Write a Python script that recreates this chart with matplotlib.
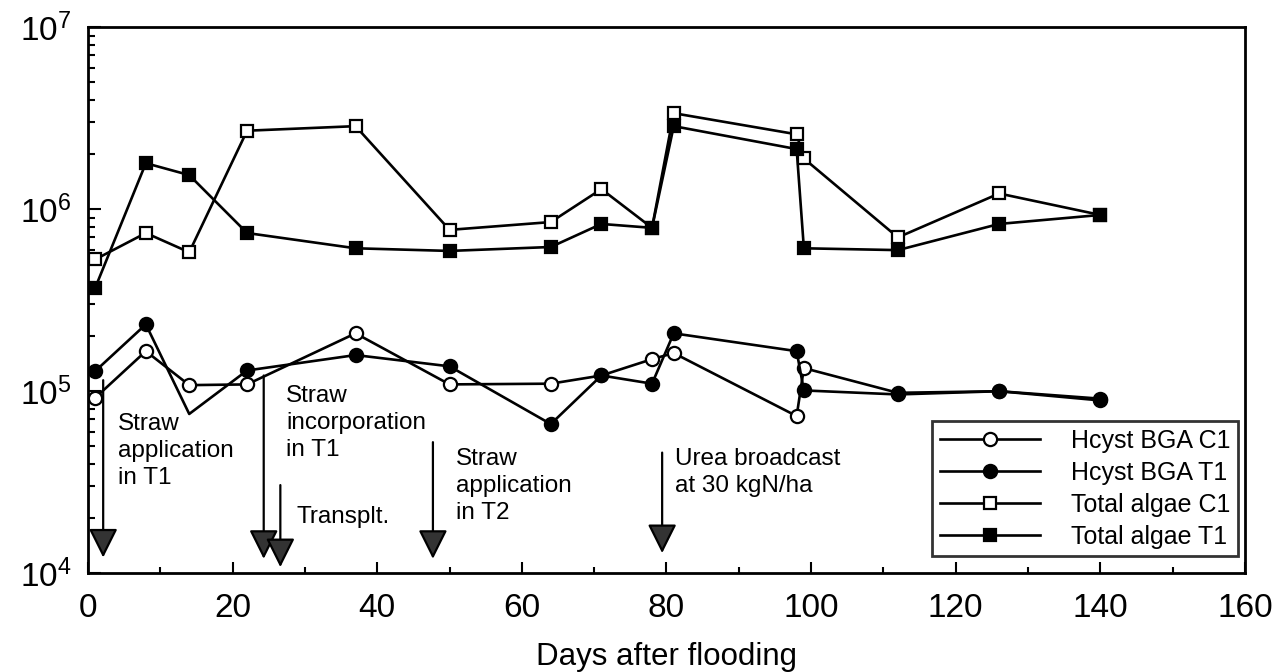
import numpy as np
import matplotlib
matplotlib.use("Agg")
import matplotlib.pyplot as plt
from matplotlib.ticker import MultipleLocator, LogLocator, NullFormatter

plt.rcParams['font.family'] = ['Liberation Sans', 'DejaVu Sans']
plt.rcParams['mathtext.fontset'] = 'custom'
plt.rcParams['mathtext.rm'] = 'Liberation Sans'

# Hcyst BGA (heterocystous blue-green algae)
days_h = [1, 8, 14, 22, 37, 50, 64, 71, 78, 81, 98, 99, 112, 126, 140]
hcyst_c1 = [9.2e4, 1.66e5, 1.08e5, 1.09e5, 2.08e5, 1.09e5, 1.1e5, 1.22e5, 1.5e5,
            1.62e5, 7.3e4, 1.34e5, 9.8e4, 1.0e5, 8.9e4]
days_ht1 = [1, 8, 14, 22, 37, 50, 64, 71, 78, 81, 98, 99, 112, 126, 140]
hcyst_t1 = [1.29e5, 2.33e5, 7.5e4, 1.3e5, 1.58e5, 1.37e5, 6.6e4, 1.22e5, 1.1e5,
            2.08e5, 1.66e5, 1.01e5, 9.6e4, 1.0e5, 9.1e4]

# Total algae
days_t = [1, 8, 14, 22, 37, 50, 64, 71, 78, 81, 98, 99, 112, 126, 140]
total_c1 = [5.3e5, 7.4e5, 5.8e5, 2.7e6, 2.86e6, 7.7e5, 8.5e5, 1.29e6, 7.9e5,
            3.37e6, 2.58e6, 1.9e6, 7.0e5, 1.22e6, 9.3e5]
total_t1 = [3.7e5, 1.79e6, 1.54e6, 7.4e5, 6.1e5, 5.9e5, 6.2e5, 8.3e5, 7.9e5,
            2.86e6, 2.14e6, 6.1e5, 5.96e5, 8.3e5, 9.3e5]

legend_labels = ['Hcyst BGA C1', 'Hcyst BGA T1', 'Total algae C1', 'Total algae T1']

fig = plt.figure(figsize=(12.79, 6.72), dpi=100)
ax = fig.add_axes([0.0688, 0.147, 0.9046, 0.8125])

lw = 1.9
ax.plot(days_h, hcyst_c1, '-o', color='black', lw=lw, ms=9.5, mfc='white', mec='black', mew=1.6,
        label=legend_labels[0], zorder=3)
ax.plot(days_ht1, hcyst_t1, '-o', color='black', lw=lw, ms=9.5, mfc='black', mec='black', mew=1.6,
        markevery=[i for i in range(len(days_ht1)) if i != 2], label=legend_labels[1], zorder=3)
ax.plot(days_t, total_c1, '-s', color='black', lw=lw, ms=8.5, mfc='white', mec='black', mew=1.6,
        label=legend_labels[2], zorder=3)
ax.plot(days_t, total_t1, '-s', color='black', lw=lw, ms=8.5, mfc='black', mec='black', mew=1.6,
        label=legend_labels[3], zorder=3)

ax.set_yscale('log')
ax.set_xlim(0, 160)
ax.set_ylim(1e4, 1e7)

ax.xaxis.set_major_locator(MultipleLocator(20))
ax.xaxis.set_minor_locator(MultipleLocator(10))
ax.yaxis.set_major_locator(LogLocator(base=10, numticks=10))
ax.yaxis.set_minor_locator(LogLocator(base=10, subs=np.arange(2, 10), numticks=10))
ax.yaxis.set_minor_formatter(NullFormatter())
ax.tick_params(axis='both', which='both', direction='in', top=False, right=False, width=1.5)
ax.tick_params(axis='x', which='major', length=8, pad=14, labelsize=24)
ax.tick_params(axis='x', which='minor', length=4)
ax.tick_params(axis='y', which='major', length=9, pad=12, labelsize=24)
ax.tick_params(axis='y', which='minor', length=5)
for s in ax.spines.values():
    s.set_linewidth(2)

ax.set_xlabel('Days after flooding', fontsize=22.5, labelpad=13)

# event arrows
arrow_kw = dict(arrowstyle='-|>,head_length=0.9,head_width=0.45', mutation_scale=20,
                color='black', lw=1.6, fc='#333333', shrinkA=0, shrinkB=0)
events = [
    (2.1, 1.15e5, 1.22e4),
    (24.3, 1.22e5, 1.2e4),
    (26.6, 3.05e4, 1.08e4),
    (47.7, 5.25e4, 1.2e4),
    (79.4, 4.6e4, 1.29e4),
]
for x, y0, y1 in events:
    ax.annotate('', xy=(x, y1), xytext=(x, y0), arrowprops=arrow_kw, zorder=2)

tfs = 17.5
ls = 1.3
ax.text(4.1, 7.6e4, 'Straw\napplication\nin T1', fontsize=tfs, va='top', ha='left', linespacing=ls)
ax.text(27.4, 1.08e5, 'Straw\nincorporation\nin T1', fontsize=tfs, va='top', ha='left', linespacing=ls)
ax.text(28.8, 2.03e4, 'Transplt.', fontsize=tfs, va='center', ha='left')
ax.text(50.9, 4.9e4, 'Straw\napplication\nin T2', fontsize=tfs, va='top', ha='left', linespacing=ls)
ax.text(81.2, 4.9e4, 'Urea broadcast\nat 30 kgN/ha', fontsize=tfs, va='top', ha='left', linespacing=ls)

leg = ax.legend(loc='lower right', bbox_to_anchor=(0.994, 0.031), borderaxespad=0,
                fontsize=18, frameon=True, fancybox=False, edgecolor='black',
                handlelength=4.0, handletextpad=1.25, labelspacing=0.32, borderpad=0.3)
leg.get_frame().set_linewidth(2)

fig.savefig('out.png', dpi=100)
